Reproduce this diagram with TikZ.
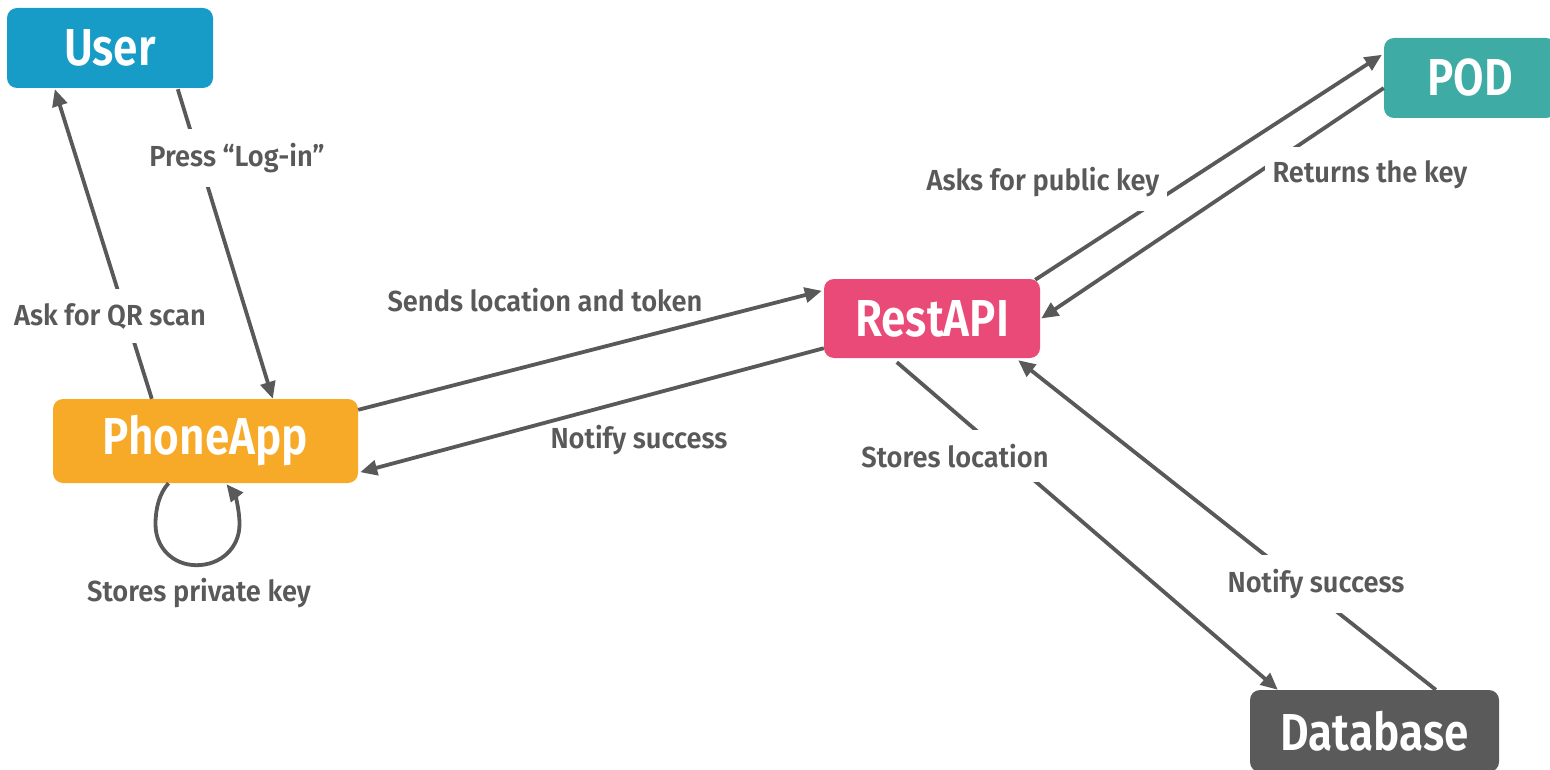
\documentclass[tikz,border=0pt]{standalone}
\usepackage{fontspec}
\setmainfont{Fira Sans}
\newfontfamily\lblfont{Fira Sans SemiBold}[FakeStretch=0.94]
\newfontfamily\boxfont{Fira Sans SemiBold}[FakeStretch=0.85]
\usetikzlibrary{arrows.meta,calc}
\definecolor{cuser}{HTML}{179BC7}
\definecolor{cpod}{HTML}{3EABA5}
\definecolor{crest}{HTML}{E94A77}
\definecolor{cphone}{HTML}{F7AA28}
\definecolor{cdb}{HTML}{5A5A5A}
\definecolor{cline}{HTML}{595959}
\tikzset{
  box/.style={rounded corners=10pt, inner sep=0pt, text=white,
    font=\boxfont\fontsize{52}{60}\selectfont},
  conn/.style={draw=cline, line width=3.8pt,
    -{Triangle[length=17pt,width=15pt]}},
  lbl/.style={text=cline, font=\lblfont\fontsize{29}{33}\selectfont,
    inner sep=0pt},
  lblw/.style={lbl, fill=white, inner xsep=8pt, inner ysep=14pt},
}
\begin{document}
\begin{tikzpicture}[x=1pt,y=-1pt]
\useasboundingbox (0,0) rectangle (1550,770);
% nodes
\node[box, fill=cuser, minimum width=206pt, minimum height=80pt] (user) at (110,48) {User};
\node[box, fill=cpod, minimum width=172pt, minimum height=80pt] (pod) at (1470,78) {POD};
\node[box, fill=crest, minimum width=216pt, minimum height=79pt] (rest) at (932,318.5) {RestAPI};
\node[box, fill=cphone, minimum width=305pt, minimum height=84pt] (phone) at (205.5,441) {PhoneApp};
\node[box, fill=cdb, minimum width=249pt, minimum height=82pt] (db) at (1374.5,731) {Database};
% connectors
\draw[conn] ([xshift=99pt]phone.north west) -- ([xshift=48pt,yshift=-1pt]user.south west);
\draw[conn] ([xshift=171pt,yshift=-1pt]user.south west) -- ([xshift=220pt]phone.north west);
\draw[conn] ([yshift=-11pt]phone.north east) -- ([xshift=-2pt,yshift=-12pt]rest.north west);
\draw[conn] ([yshift=10pt]rest.south west) -- ([xshift=2pt,yshift=11pt]phone.south east);
\draw[conn] ([xshift=-5pt,yshift=-1pt]rest.north east) -- ([xshift=-2pt,yshift=-17pt]pod.north west);
\draw[conn] ([yshift=-10pt]pod.west) -- ([xshift=1pt]rest.east);
\draw[conn] ([xshift=73pt,yshift=-4pt]rest.south west) -- ([xshift=28pt]db.north west);
\draw[conn] ([xshift=186pt]db.north west) -- ([xshift=-22pt,yshift=-2pt]rest.south east);
\begin{scope}[shift={(phone.south)}]
\draw[conn] (-37,0) .. controls (-46,10) and (-50,25) .. (-50,41)
   .. controls (-50,65) and (-32,82) .. (-9,82)
   .. controls (15,82) and (34,65) .. (34,41)
   .. controls (34,25) and (29,11) .. (21,1);
\end{scope}
% labels
\node[lblw] (l1) at (110,316) {Ask for QR scan};
\node[lblw] (l2) at (237,158) {Press “Log-in”};
\node[lbl]  (l3) at (545,300) {Sends location and token};
\node[lbl]  (l4) at (639,440) {Notify success};
\node[lblw] (l5) at (1043,182) {Asks for public key};
\node[lblw] (l6) at (1370,175) {Returns the key};
\node[lblw] (l7) at (955,456) {Stores location};
\node[lblw] (l8) at (1316,584) {Notify success};
\node[lbl]  (l9) at (199,593) {Stores private key};
\end{tikzpicture}
\end{document}
